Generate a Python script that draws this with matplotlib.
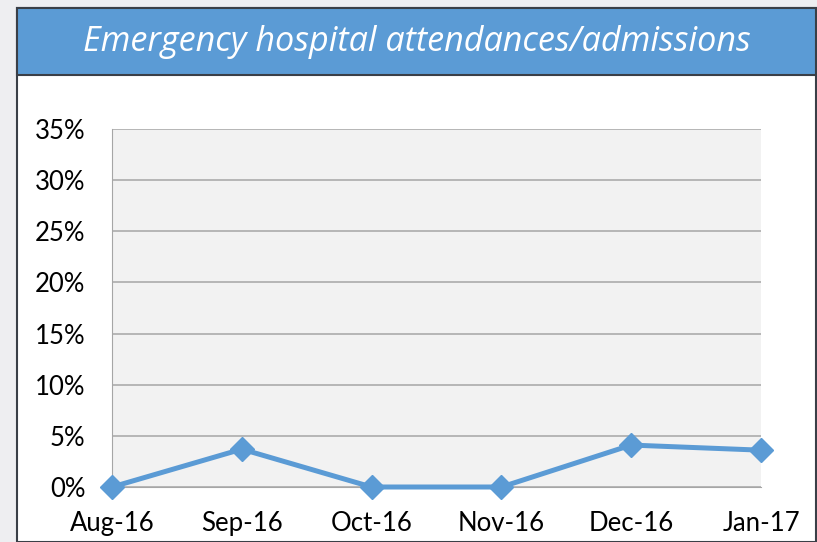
import matplotlib.pyplot as plt
from matplotlib.patches import Rectangle
from matplotlib.ticker import FuncFormatter

months = ["Aug-16", "Sep-16", "Oct-16", "Nov-16", "Dec-16", "Jan-17"]
rates = [0.0, 3.7, 0.0, 0.0, 4.1, 3.6]
yticks = [0, 5, 10, 15, 20, 25, 30, 35]

W, H = 817, 542
fig = plt.figure(figsize=(W / 100, H / 100), dpi=100)
fig.patch.set_facecolor("#eeeef1")

# white chart panel with dark frame
fig.patches.append(Rectangle((17 / W, 0), (816 - 17) / W, (H - 8) / H,
                             transform=fig.transFigure, facecolor="white",
                             edgecolor="#3a3f47", linewidth=1.5, zorder=-2))
# blue title band
fig.patches.append(Rectangle((17 / W, (H - 75) / H), (816 - 17) / W, 67 / H,
                             transform=fig.transFigure, facecolor="#5b9bd5",
                             edgecolor="#3a3f47", linewidth=1.5, zorder=-1))
fig.text(417 / W, (H - 42) / H, "Emergency hospital attendances/admissions",
         color="white", fontsize=24.6, style="italic", family="Open Sans",
         ha="center", va="center")

ax = fig.add_axes([112 / W, (H - 487) / H, (761 - 112) / W, (487 - 129) / H])
ax.set_facecolor("#f2f2f2")
x = list(range(len(months)))
ax.plot(x, rates, color="#5b9bd5", linewidth=3.6, marker="D", markersize=12,
        clip_on=False, zorder=5)

ax.set_xlim(0, len(months) - 1)
ax.set_ylim(0, 35)
ax.set_yticks(yticks)
ax.yaxis.set_major_formatter(FuncFormatter(lambda v, p: f"{v:.0f}%"))
ax.set_xticks(x)
ax.set_xticklabels(months)
ax.grid(axis="y", color="#a6a6a6", linewidth=1.1)
ax.set_axisbelow(True)
for s in ["top", "right"]:
    ax.spines[s].set_visible(False)
ax.spines["left"].set_color("#a6a6a6")
ax.spines["bottom"].set_color("#a6a6a6")
ax.tick_params(length=0, labelsize=18.5, colors="black")
ax.tick_params(axis="y", pad=19)
ax.tick_params(axis="x", pad=17)
for t in ax.get_xticklabels() + ax.get_yticklabels():
    t.set_family("Lato")

fig.savefig("out.png", dpi=100, facecolor=fig.get_facecolor())
